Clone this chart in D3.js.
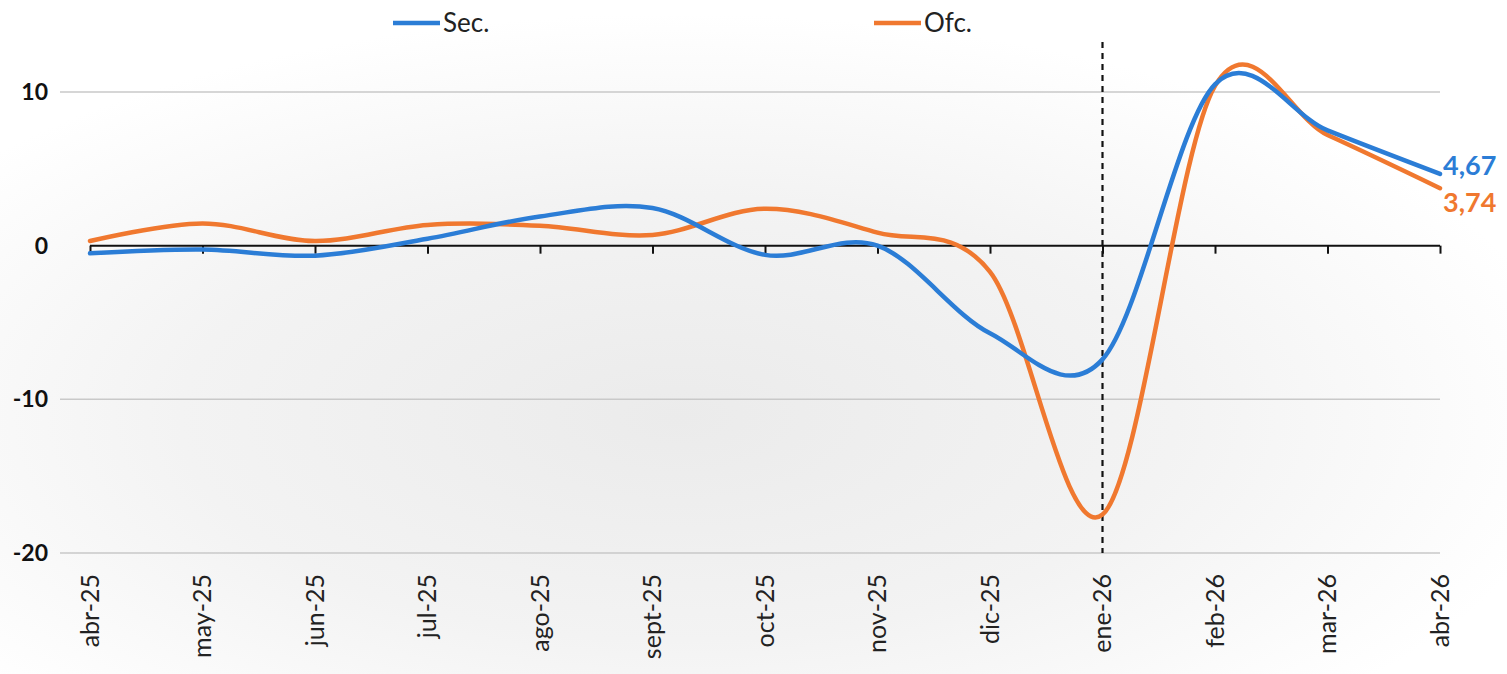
<!DOCTYPE html>
<html>
<head>
<meta charset="utf-8">
<script src="https://d3js.org/d3.v7.min.js"></script>
<style>
body { margin:0; background:#fff; }
svg { display:block; font-family: Lato, "Liberation Sans", sans-serif; }
</style>
</head>
<body>
<svg width="1507" height="674"></svg>
<script>
var months = ["abr-25","may-25","jun-25","jul-25","ago-25","sept-25","oct-25","nov-25","dic-25","ene-26","feb-26","mar-26","abr-26"];
var sec = [-0.5,-0.25,-0.65,0.45,1.9,2.45,-0.6,0.0,-5.7,-7.4,10.5,7.5,4.67];
var ofc = [0.3,1.45,0.3,1.35,1.3,0.7,2.4,0.85,-1.7,-17.5,10.4,7.2,3.74];
var yTicks = [10,0,-10,-20];
var marker = "ene-26";

var svg = d3.select("svg"),
    width = +svg.attr("width"),
    height = +svg.attr("height");

// soft gray backdrop
var defs = svg.append("defs");
var grad = defs.append("radialGradient").attr("id","bg")
    .attr("cx","45%").attr("cy","62%").attr("r","60%");
grad.append("stop").attr("offset","0%").attr("stop-color","#ebebeb");
grad.append("stop").attr("offset","55%").attr("stop-color","#f3f3f3");
grad.append("stop").attr("offset","100%").attr("stop-color","#ffffff");
svg.append("rect").attr("width",width).attr("height",height).attr("fill","url(#bg)");

var x = d3.scalePoint().domain(months).range([90,1440]);
var y = d3.scaleLinear().domain([-20,10]).range([553,92]);

// gridlines
svg.append("g").selectAll("line")
  .data(yTicks.filter(function(d){ return d != 0; }))
  .enter().append("line")
    .attr("x1",60).attr("x2",1440)
    .attr("y1",function(d){ return y(d); })
    .attr("y2",function(d){ return y(d); })
    .attr("stroke","#c9c9c9").attr("stroke-width",1.5);

// y labels
svg.append("g").selectAll("text")
  .data(yTicks)
  .enter().append("text")
    .attr("x",48).attr("y",function(d){ return y(d); })
    .attr("dy","0.35em")
    .attr("text-anchor","end")
    .attr("font-weight","bold")
    .attr("font-size",23)
    .attr("fill","#111")
    .text(function(d){ return d; });

// zero axis with ticks
var xAxis = svg.append("g")
    .attr("transform","translate(0," + y(0) + ")")
    .call(d3.axisBottom(x).tickSize(8).tickFormat(""));
xAxis.select(".domain").attr("stroke","#111").attr("stroke-width",2).attr("d","M90,0H1440");
xAxis.selectAll(".tick line").attr("stroke","#111").attr("stroke-width",2);

// month labels
svg.append("g").selectAll("text")
  .data(months)
  .enter().append("text")
    .attr("transform",function(d){ return "translate(" + x(d) + ",574) rotate(-90)"; })
    .attr("dy","0.35em")
    .attr("text-anchor","end")
    .attr("font-size",25)
    .attr("fill","#222")
    .text(function(d){ return d; });

// dashed marker
svg.append("line")
    .attr("x1",x(marker)).attr("x2",x(marker))
    .attr("y1",42).attr("y2",553)
    .attr("stroke","#111").attr("stroke-width",2.2)
    .attr("stroke-dasharray","6,5");

var line = d3.line()
    .x(function(d,i){ return x(months[i]); })
    .y(function(d){ return y(d); })
    .curve(d3.curveCatmullRom.alpha(0));

var series = [
  {name:"Sec.", vals:sec, color:"#2b7dd6"},
  {name:"Ofc.", vals:ofc, color:"#f0782f"}
];

series.slice().reverse().forEach(function(s){
  svg.append("path")
    .attr("d", line(s.vals))
    .attr("fill","none")
    .attr("stroke", s.color)
    .attr("stroke-width",4.5)
    .attr("stroke-linecap","round");
});

// end labels
svg.append("text")
    .attr("x",1443).attr("y",y(sec[12]) - 8)
    .attr("dy","0.35em")
    .attr("font-weight","bold").attr("font-size",27)
    .attr("fill","#2b7dd6")
    .text(String(sec[12]).replace(".",","));
svg.append("text")
    .attr("x",1443).attr("y",y(ofc[12]) + 14)
    .attr("dy","0.35em")
    .attr("font-weight","bold").attr("font-size",27)
    .attr("fill","#f0782f")
    .text(String(ofc[12]).replace(".",","));

// legend
var legX = [393, 874];
series.forEach(function(s,i){
  var g = svg.append("g").attr("transform","translate(" + legX[i] + ",23)");
  g.append("line").attr("x1",0).attr("x2",47).attr("stroke",s.color).attr("stroke-width",4.5);
  g.append("text").attr("x",50).attr("dy","0.35em").attr("font-size",26).attr("fill","#222").text(s.name);
});
</script>
</body>
</html>
